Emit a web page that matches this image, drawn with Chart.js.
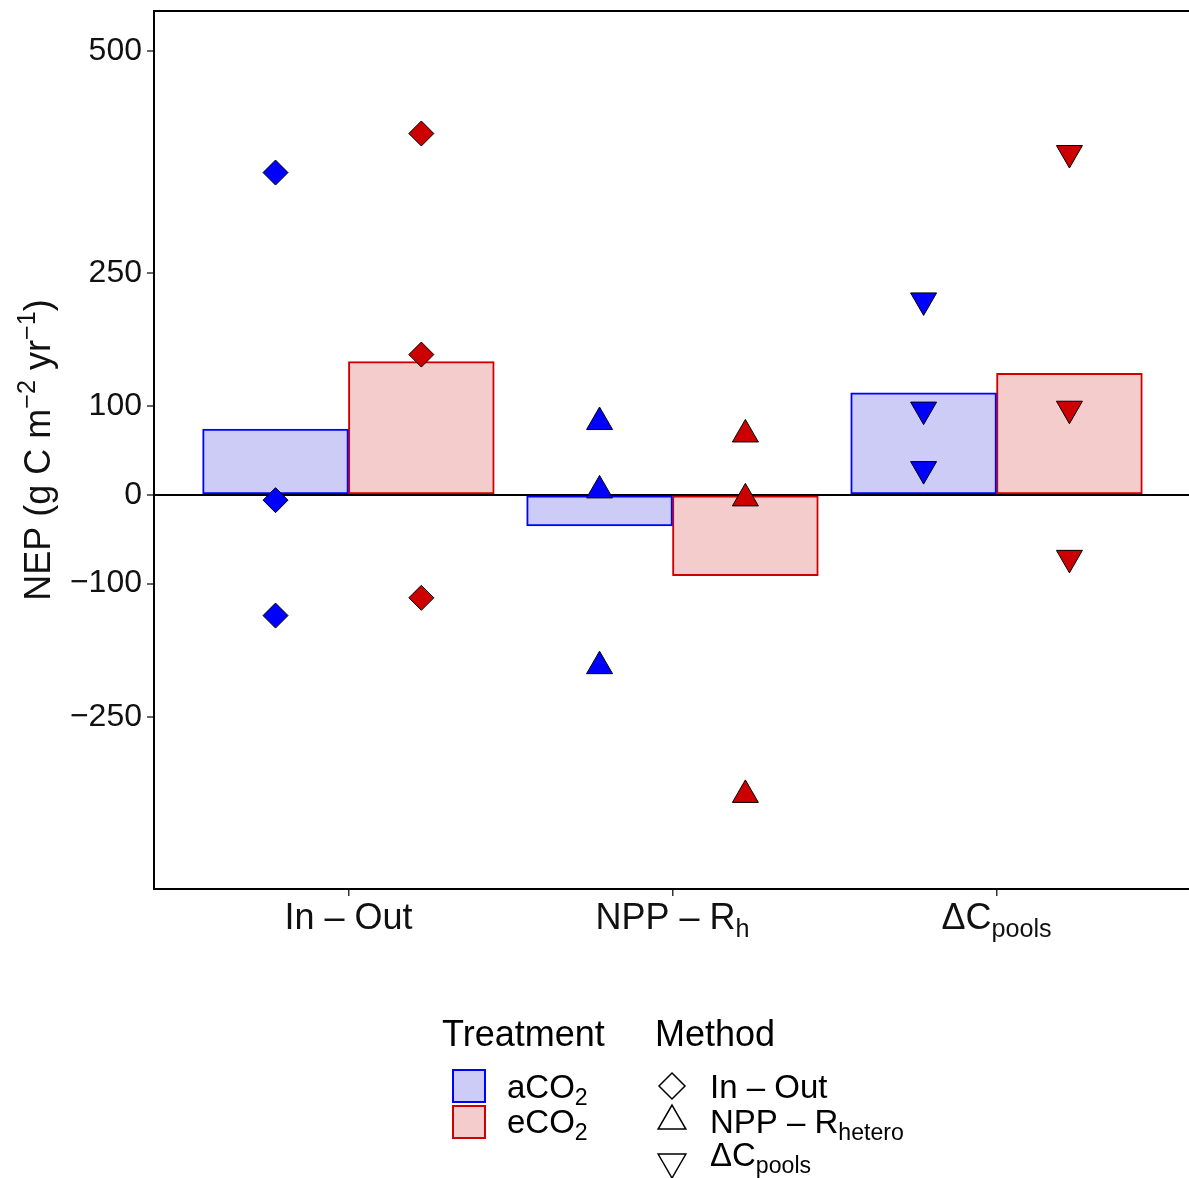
<!DOCTYPE html>
<html>
<head>
<meta charset="utf-8">
<script src="https://cdn.jsdelivr.net/npm/chart.js@4.4.1/dist/chart.umd.min.js"></script>
<style>
  html, body { margin: 0; padding: 0; background: #fff; }
  #wrap { width: 1189px; height: 1178px; }
</style>
</head>
<body>
<div id="wrap"><canvas id="chart" width="1189" height="1178"></canvas></div>
<script>
// methods on the x axis (main text + subscript)
const methodMain = ['In \u2013 Out', 'NPP \u2013 R', '\u0394C'];
const methodSub = ['', 'h', 'pools'];
const legendMethodSub = ['', 'hetero', 'pools'];
const treatments = ['aCO', 'eCO'];

// bars = treatment means
const aco2Mean = [74, -35, 115];
const eco2Mean = [150, -91, 137];

// individual estimates (3 per method and treatment)
const aco2InOut = [363, -6, -136];
const eco2InOut = [407, 158, -116];
const aco2NppRh = [82, 5, -193];
const eco2NppRh = [68, -4, -338];
const aco2Pools = [219, 96, 29];
const eco2Pools = [385, 97, -71];

const yTicks = [-250, -100, 0, 100, 250, 500];

const FONT = "'Liberation Sans', Arial, Helvetica, sans-serif";
const blue = '#0000FF', red = '#CC0000';
const blueFill = '#CCCCF7', redFill = '#F4CCCC';
const dodge = 0.225;

function barData(vals, off) {
  return vals.map((v, i) => ({ x: i + 1 + off, y: v }));
}
function ptData(vals, m, off) {
  return vals.map(v => ({ x: m + 1 + off, y: v }));
}

const shapes = [
  { pointStyle: 'rectRot', radius: 12.5, rotation: 0 },
  { pointStyle: 'triangle', radius: 15, rotation: 0 },
  { pointStyle: 'triangle', radius: 15, rotation: 180 }
];
const ptSets = [
  [aco2InOut, eco2InOut],
  [aco2NppRh, eco2NppRh],
  [aco2Pools, eco2Pools]
];

const datasets = [
  { type: 'bar', label: 'aCO2', data: barData(aco2Mean, -dodge), backgroundColor: blueFill,
    borderColor: blue, borderWidth: 2, borderSkipped: false, grouped: false,
    barPercentage: 1, categoryPercentage: 1, order: 2 },
  { type: 'bar', label: 'eCO2', data: barData(eco2Mean, dodge), backgroundColor: redFill,
    borderColor: red, borderWidth: 2, borderSkipped: false, grouped: false,
    barPercentage: 1, categoryPercentage: 1, order: 2 }
];
ptSets.forEach((pair, m) => {
  pair.forEach((vals, t) => {
    datasets.push({
      type: 'scatter',
      label: treatments[t] + ' ' + m,
      data: ptData(vals, m, t === 0 ? -dodge : dodge),
      pointStyle: shapes[m].pointStyle,
      pointRadius: shapes[m].radius,
      pointRotation: shapes[m].rotation,
      pointBackgroundColor: t === 0 ? blue : red,
      pointBorderColor: '#000',
      pointBorderWidth: 1,
      showLine: false,
      order: 1
    });
  });
});

function richWidth(ctx, parts, size) {
  let w = 0;
  parts.forEach(([txt, kind]) => {
    ctx.font = (kind ? size * 0.7 : size) + 'px ' + FONT;
    w += ctx.measureText(txt).width;
  });
  return w;
}
function drawRich(ctx, parts, x, y, size, align) {
  let cx = align === 'center' ? x - richWidth(ctx, parts, size) / 2 : x;
  parts.forEach(([txt, kind]) => {
    const s = kind ? size * 0.7 : size;
    const dy = kind === 'sub' ? size * 0.22 : kind === 'sup' ? -size * 0.42 : 0;
    ctx.font = s + 'px ' + FONT;
    ctx.fillText(txt, cx, y + dy);
    cx += ctx.measureText(txt).width;
  });
}
function symbol(ctx, m, x, y, r) {
  ctx.beginPath();
  if (m === 0) {
    ctx.moveTo(x, y - r); ctx.lineTo(x + r, y); ctx.lineTo(x, y + r); ctx.lineTo(x - r, y);
  } else {
    const s = m === 1 ? 1 : -1;
    ctx.moveTo(x, y - s * r);
    ctx.lineTo(x + r * 0.866, y + s * r * 0.5);
    ctx.lineTo(x - r * 0.866, y + s * r * 0.5);
  }
  ctx.closePath();
  ctx.fillStyle = '#fff';
  ctx.fill();
  ctx.stroke();
}

const extras = {
  id: 'extras',
  afterDraw(chart) {
    const ctx = chart.ctx;
    const a = chart.chartArea;
    const xs = chart.scales.x;
    ctx.save();
    // top panel line
    ctx.strokeStyle = '#000';
    ctx.lineWidth = 2;
    ctx.beginPath();
    ctx.moveTo(a.left - 1, a.top);
    ctx.lineTo(a.right + 1, a.top);
    ctx.stroke();

    ctx.fillStyle = '#111';
    ctx.textBaseline = 'alphabetic';
    // x labels
    methodMain.forEach((lab, i) => {
      const parts = [[lab, '']];
      if (methodSub[i]) parts.push([methodSub[i], 'sub']);
      drawRich(ctx, parts, xs.getPixelForValue(i + 1), 929, 36, 'center');
    });

    // y title
    const yparts = [['NEP (g C m', ''], ['\u22122', 'sup'], [' yr', ''], ['\u22121', 'sup'], [')', '']];
    ctx.save();
    ctx.translate(50, (a.top + a.bottom) / 2);
    ctx.rotate(-Math.PI / 2);
    drawRich(ctx, yparts, 0, 0, 36, 'center');
    ctx.restore();

    // legend
    ctx.fillStyle = '#000';
    ctx.font = '36px ' + FONT;
    ctx.fillText('Treatment', 442, 1046);
    ctx.fillText('Method', 655, 1046);

    const boxes = [[blueFill, blue, 1069], [redFill, red, 1105]];
    boxes.forEach(([f, s, y], t) => {
      ctx.fillStyle = f;
      ctx.fillRect(452, y, 34, 34);
      ctx.strokeStyle = s;
      ctx.lineWidth = 2;
      ctx.strokeRect(453, y + 1, 32, 32);
      ctx.fillStyle = '#000';
      drawRich(ctx, [[treatments[t], ''], ['2', 'sub']], 507, t === 0 ? 1098 : 1133, 33, 'left');
    });

    const rows = [[1086, 1098], [1121, 1133], [1162, 1166]];
    ctx.strokeStyle = '#000';
    ctx.lineWidth = 1.5;
    methodMain.forEach((lab, m) => {
      symbol(ctx, m, 672, rows[m][0], m === 0 ? 13 : 16);
      const parts = [[lab, '']];
      if (legendMethodSub[m]) parts.push([legendMethodSub[m], 'sub']);
      ctx.fillStyle = '#000';
      drawRich(ctx, parts, 710, rows[m][1], 33, 'left');
    });
    ctx.restore();
  }
};

new Chart(document.getElementById('chart'), {
  type: 'bar',
  data: { datasets },
  options: {
    responsive: false,
    animation: false,
    layout: { autoPadding: false, padding: { top: 11, left: 0, right: 0, bottom: 0 } },
    plugins: { legend: { display: false }, tooltip: { enabled: false } },
    scales: {
      x: {
        type: 'linear',
        min: 0.4,
        max: 3.594,
        offset: false,
        afterBuildTicks: s => { s.ticks = [1, 2, 3].map(v => ({ value: v })); },
        afterFit: s => { s.height = 289; s.paddingLeft = 0; s.paddingRight = 0; },
        ticks: { display: false },
        grid: { offset: false, drawOnChartArea: false, drawTicks: true, tickLength: 7, color: '#333', lineWidth: 1.5 },
        border: { display: true, color: '#000', width: 2 }
      },
      y: {
        type: 'linear',
        min: -444,
        max: 545,
        afterBuildTicks: s => { s.ticks = yTicks.map(v => ({ value: v })); },
        afterFit: s => { s.width = 154; s.paddingTop = 0; s.paddingBottom = 0; },
        ticks: {
          color: '#111',
          font: { family: FONT, size: 32 },
          padding: 5,
          callback: v => String(v).replace('-', '\u2212')
        },
        grid: {
          offset: false,
          drawOnChartArea: true,
          drawTicks: true,
          tickLength: 7,
          color: c => (c.tick && c.tick.value === 0 ? '#000' : 'rgba(0,0,0,0)'),
          lineWidth: c => (c.tick && c.tick.value === 0 ? 2 : 0),
          tickColor: '#333',
          tickWidth: 1.5
        },
        border: { display: true, color: '#000', width: 2 }
      }
    }
  },
  plugins: [extras]
});
</script>
</body>
</html>
